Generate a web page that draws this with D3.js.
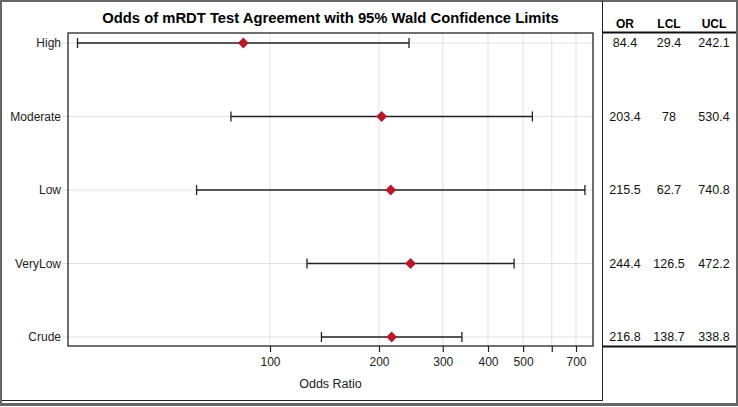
<!DOCTYPE html>
<html>
<head>
<meta charset="utf-8">
<script src="https://cdn.jsdelivr.net/npm/d3@7"></script>
<style>
  html, body { margin: 0; padding: 0; background: #fff; }
  svg { display: block; font-family: "Liberation Sans", Arial, sans-serif; }
</style>
</head>
<body>
<div id="chart"></div>
<script>
// Data
let groups = ['High', 'Moderate', 'Low', 'VeryLow', 'Crude'];
let oddsRatio = [84.4, 203.4, 215.5, 244.4, 216.8];
let lowerCL = [29.4, 78, 62.7, 126.5, 138.7];
let upperCL = [242.1, 530.4, 740.8, 472.2, 338.8];
let xTicks = [100, 200, 300, 400, 500, 600, 700];
let xTickLabels = ['100', '200', '300', '400', '500', '', '700'];
let tableCols = ['OR', 'LCL', 'UCL'];

let W = 738, H = 407;
let plot = { left: 68, right: 593, top: 33, bottom: 346 };

let svg = d3.select('#chart').append('svg')
    .attr('width', W)
    .attr('height', H);

// outer border
svg.append('rect')
    .attr('x', 1).attr('y', 1)
    .attr('width', W - 2).attr('height', H - 3)
    .attr('fill', 'none')
    .attr('stroke', '#666')
    .attr('stroke-width', 2);
svg.append('line')
    .attr('x1', 1).attr('x2', W - 1)
    .attr('y1', 404.5).attr('y2', 404.5)
    .attr('stroke', '#666').attr('stroke-width', 3);
svg.append('line')
    .attr('x1', 2).attr('x2', 602)
    .attr('y1', 400.5).attr('y2', 400.5)
    .attr('stroke', '#222').attr('stroke-width', 1);
svg.append('line')
    .attr('x1', 602.5).attr('x2', 602.5)
    .attr('y1', 1).attr('y2', 401)
    .attr('stroke', '#222').attr('stroke-width', 1);

// scales: 100 -> 270, 200 -> 379 on a log axis
let pxPerDecade = 109 / Math.log10(2);
let x = d3.scaleLog()
    .domain([Math.pow(10, 2 - (270 - plot.left) / pxPerDecade), Math.pow(10, 2 + (plot.right - 270) / pxPerDecade)])
    .range([plot.left, plot.right]);

let y = d3.scalePoint()
    .domain(groups)
    .range([plot.top + 10, plot.bottom - 9]);

let rows = groups.map(function(g, i) {
    return { name: g, or: oddsRatio[i], lcl: lowerCL[i], ucl: upperCL[i] };
});

// title
svg.append('text')
    .attr('x', (plot.left + plot.right) / 2)
    .attr('y', 23)
    .attr('text-anchor', 'middle')
    .style('font-size', '14.8px')
    .style('font-weight', 'bold')
    .text('Odds of mRDT Test Agreement with 95% Wald Confidence Limits');

// grid
let grid = svg.append('g');
grid.selectAll('.vgrid')
    .data(xTicks)
    .enter().append('line')
    .attr('x1', d => x(d)).attr('x2', d => x(d))
    .attr('y1', plot.top).attr('y2', plot.bottom)
    .attr('stroke', '#e2e2e2').attr('stroke-width', 1);
grid.selectAll('.hgrid')
    .data(groups)
    .enter().append('line')
    .attr('x1', plot.left - 6).attr('x2', plot.right)
    .attr('y1', d => y(d)).attr('y2', d => y(d))
    .attr('stroke', '#e2e2e2').attr('stroke-width', 1);

// y labels
svg.selectAll('.ylab')
    .data(groups)
    .enter().append('text')
    .attr('x', plot.left - 7)
    .attr('y', d => y(d))
    .attr('dy', '0.35em')
    .attr('text-anchor', 'end')
    .style('font-size', '12px')
    .attr('fill', '#222')
    .text(d => d);

// x axis
let xAxis = d3.axisBottom(x)
    .tickValues(xTicks)
    .tickFormat((d, i) => xTickLabels[i])
    .tickSize(6)
    .tickPadding(5);
let gx = svg.append('g')
    .attr('transform', 'translate(0,' + plot.bottom + ')')
    .call(xAxis);
gx.select('.domain').remove();
gx.selectAll('line').attr('stroke', '#222').attr('stroke-width', 1.2);
gx.selectAll('text')
    .style('font-size', '12px')
    .style('font-family', '"Liberation Sans", Arial, sans-serif')
    .attr('fill', '#222');

svg.append('text')
    .attr('x', (plot.left + plot.right) / 2)
    .attr('y', 388)
    .attr('text-anchor', 'middle')
    .style('font-size', '12.5px')
    .attr('fill', '#222')
    .text('Odds Ratio');

// error bars
let bars = svg.selectAll('.bar')
    .data(rows)
    .enter().append('g');
bars.append('line')
    .attr('x1', d => x(d.lcl)).attr('x2', d => x(d.ucl))
    .attr('y1', d => y(d.name)).attr('y2', d => y(d.name))
    .attr('stroke', '#222').attr('stroke-width', 1.3);
['lcl', 'ucl'].forEach(function(k) {
    bars.append('line')
        .attr('x1', d => x(d[k])).attr('x2', d => x(d[k]))
        .attr('y1', d => y(d.name) - 5).attr('y2', d => y(d.name) + 5)
        .attr('stroke', '#222').attr('stroke-width', 1.3);
});
bars.append('path')
    .attr('d', d3.symbol().type(d3.symbolDiamond2).size(75))
    .attr('transform', d => 'translate(' + x(d.or) + ',' + y(d.name) + ')')
    .attr('fill', '#b7192c');

// frame
svg.append('rect')
    .attr('x', plot.left).attr('y', plot.top)
    .attr('width', plot.right - plot.left).attr('height', plot.bottom - plot.top)
    .attr('fill', 'none')
    .attr('stroke', '#222').attr('stroke-width', 1.3);

// table
let colX = [625, 669, 714];
svg.selectAll('.thead')
    .data(tableCols)
    .enter().append('text')
    .attr('x', (d, i) => colX[i])
    .attr('y', 28)
    .attr('text-anchor', 'middle')
    .style('font-size', '12px')
    .style('font-weight', 'bold')
    .text(d => d);
svg.append('line')
    .attr('x1', 603).attr('x2', W - 2)
    .attr('y1', 32.5).attr('y2', 32.5)
    .attr('stroke', '#111').attr('stroke-width', 2);
svg.append('line')
    .attr('x1', 603).attr('x2', W - 2)
    .attr('y1', 346.5).attr('y2', 346.5)
    .attr('stroke', '#111').attr('stroke-width', 2);

let keys = ['or', 'lcl', 'ucl'];
rows.forEach(function(r) {
    keys.forEach(function(k, i) {
        svg.append('text')
            .attr('x', colX[i])
            .attr('y', y(r.name))
            .attr('dy', '0.35em')
            .attr('text-anchor', 'middle')
            .style('font-size', '12.5px')
            .attr('fill', '#111')
            .text(r[k]);
    });
});
</script>
</body>
</html>
